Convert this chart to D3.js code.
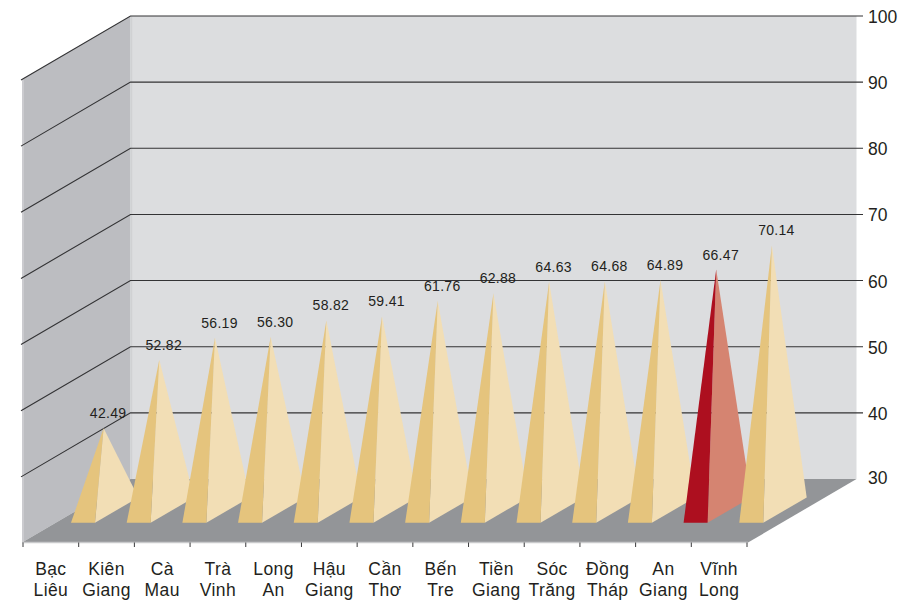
<!DOCTYPE html>
<html>
<head>
<meta charset="utf-8">
<script src="https://cdnjs.cloudflare.com/ajax/libs/d3/7.8.5/d3.min.js"></script>
<style>
  html, body { margin: 0; background: #fff; }
  svg { display: block; font-family: "Liberation Sans", Arial, sans-serif; }
</style>
</head>
<body>
<svg id="chart" width="914" height="600"></svg>
<script>
// Provinces, drawn in ascending order of score
const categories = [
  ["Bạc", "Liêu"], ["Kiên", "Giang"], ["Cà", "Mau"], ["Trà", "Vinh"], ["Long", "An"],
  ["Hậu", "Giang"], ["Cần", "Thơ"], ["Bến", "Tre"], ["Tiền", "Giang"], ["Sóc", "Trăng"],
  ["Đồng", "Tháp"], ["An", "Giang"], ["Vĩnh", "Long"]
];
const values = [42.49, 52.82, 56.19, 56.30, 58.82, 59.41, 61.76, 62.88, 64.63, 64.68, 64.89, 66.47, 70.14];
const yTicks = [30, 40, 50, 60, 70, 80, 90, 100];
const highlighted = [66.47];

const svg = d3.select("#chart");
const names = categories.map(c => c.join(" "));

// Oblique projection: depth 0 is the front edge, depth 1 the back wall
const depthX = d3.scaleLinear().domain([0, 1]).range([0, 108.5]);
const depthY = d3.scaleLinear().domain([0, 1]).range([0, -63.5]);
const x = d3.scaleBand().domain(names).range([23, 747]).paddingInner(0).paddingOuter(0);
const y = d3.scaleLinear().domain([30, 100]).range([542.5, 79.5]);
const project = (px, value, depth) => [px + depthX(depth), y(value) + depthY(depth)];
const poly = pts => d3.line()(pts) + "Z";

const leftX = x.range()[0] - 1;
const rightX = x.range()[1] + 1;

// Back wall, side wall and floor
svg.append("path").attr("fill", "#dcdddf")
  .attr("d", poly([project(leftX, 100, 1), project(rightX, 100, 1), project(rightX, 30, 1), project(leftX, 30, 1)]));
svg.append("path").attr("fill", "#bcbdc1")
  .attr("d", poly([project(leftX, 100, 0), project(leftX, 100, 1), project(leftX, 30, 1), project(leftX, 30, 0)]));
svg.append("path").attr("fill", "#939598")
  .attr("d", poly([project(leftX, 30, 0), project(leftX, 30, 1), project(rightX, 30, 1), project(rightX, 30, 0)]));

// Pale edges along the side wall
svg.append("line").attr("stroke", "#d0d1d3").attr("stroke-width", 1.5)
  .attr("x1", project(leftX, 100, 1)[0] + 1).attr("x2", project(leftX, 100, 1)[0] + 1)
  .attr("y1", project(leftX, 100, 1)[1]).attr("y2", project(leftX, 30, 1)[1]);
svg.append("line").attr("stroke", "#d0d1d3").attr("stroke-width", 1.5)
  .attr("x1", leftX + 1).attr("x2", leftX + 1)
  .attr("y1", y(100)).attr("y2", y(30));

// Gridlines: across the back wall, then down the side wall
const gridTicks = yTicks.filter(t => t > 30);
svg.append("g").selectAll("path").data(gridTicks).join("path")
  .attr("fill", "none")
  .attr("stroke", "#333335")
  .attr("stroke-width", 1.1)
  .attr("d", t => d3.line()([
    [leftX - 1, y(t) + 0.5],
    project(leftX, t, 1),
    [project(rightX, t, 1)[0] + 6.5, project(rightX, t, 1)[1]]
  ]));

// Value axis labels on the right of the back wall
svg.append("g").selectAll("text").data(yTicks).join("text")
  .attr("x", 868)
  .attr("y", t => project(rightX, t, 1)[1] + (t === 30 ? 5 : 7))
  .attr("font-size", 17.5)
  .attr("fill", "#231f20")
  .text(d => d);

// Front edge and category ticks
svg.append("line").attr("stroke", "#c9cacc").attr("stroke-width", 1.5)
  .attr("x1", leftX).attr("x2", rightX)
  .attr("y1", y(30)).attr("y2", y(30));
const tickXs = names.map(n => x(n)).concat([x.range()[1]]);
svg.append("g").selectAll("line").data(tickXs).join("line")
  .attr("stroke", "#3a3a3c")
  .attr("x1", d => d).attr("x2", d => d)
  .attr("y1", y(30)).attr("y2", y(30) + 4.5);

// Two-line category labels
const catLabels = svg.append("g").selectAll("text").data(categories).join("text")
  .attr("text-anchor", "middle")
  .attr("font-size", 17.5)
  .attr("letter-spacing", 0.4)
  .attr("fill", "#231f20");
catLabels.selectAll("tspan").data(d => d.map(line => ({ line, key: d.join(" ") }))).join("tspan")
  .attr("x", d => x(d.key) + x.bandwidth() / 2)
  .attr("y", (d, i) => 575 + i * 21)
  .text(d => d.line);

// Pyramids, painted left to right so nearer ones overlap their neighbours
const halfBase = 12;
const frontDepth = 0.31;
const backDepth = 0.71;
const apexDepth = 0.5;
const nudge = -1.5;
const bars = names.map((name, i) => ({ name, value: values[i], cx: x(name) + x.bandwidth() / 2 + nudge }));

const pyramids = svg.append("g").selectAll("g").data(bars).join("g");
pyramids.append("path")
  .attr("fill", d => highlighted.includes(d.value) ? "#d58471" : "#f2deb5")
  .attr("d", d => poly([
    project(d.cx + halfBase, 30, frontDepth),
    project(d.cx + halfBase, 30, backDepth),
    project(d.cx, d.value, apexDepth)
  ]));
pyramids.append("path")
  .attr("fill", d => highlighted.includes(d.value) ? "#ad0f1f" : "#e5c47d")
  .attr("d", d => poly([
    project(d.cx - halfBase, 30, frontDepth),
    project(d.cx + halfBase, 30, frontDepth),
    project(d.cx, d.value, apexDepth)
  ]));

// Value labels float just above each apex
svg.append("g").selectAll("text").data(bars).join("text")
  .attr("x", d => project(d.cx, d.value, apexDepth)[0] + 4.5)
  .attr("y", d => project(d.cx, d.value, apexDepth)[1] - 10)
  .attr("text-anchor", "middle")
  .attr("font-size", 14)
  .attr("letter-spacing", 0.3)
  .attr("fill", "#231f20")
  .text(d => d.value.toFixed(2));
</script>
</body>
</html>
